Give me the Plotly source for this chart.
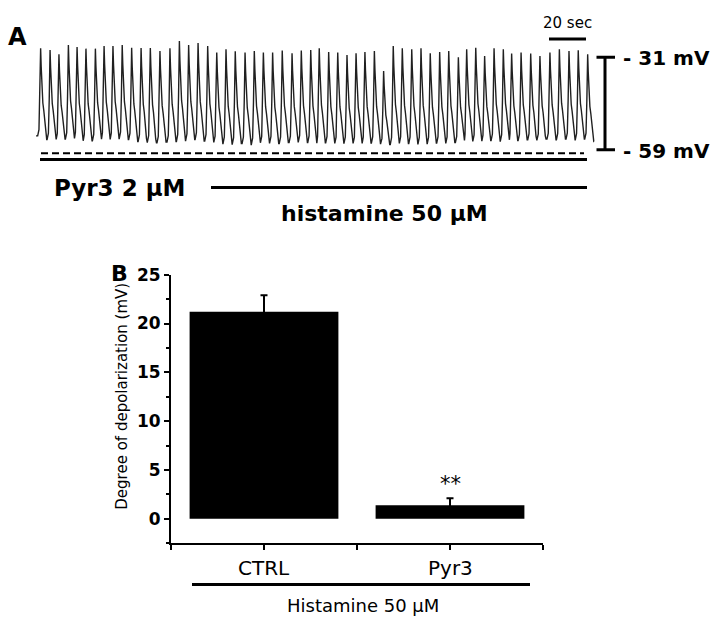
import plotly.graph_objects as go

W, H = 716, 622

# ---------------- Panel A data (read from the recording) ----------------
peak_time_s = [2.5, 7.6, 12.4, 17.5, 22.2, 27.0, 32.1, 36.8, 41.6, 46.6,
               51.7, 56.8, 61.8, 67.0, 72.4, 77.5, 82.5, 87.6, 92.8, 97.7,
               102.7, 107.7, 113.0, 118.0, 122.9, 127.9, 133.1, 138.4, 143.4, 148.5,
               153.1, 158.2, 163.1, 168.1, 173.0, 177.8, 182.9, 187.9, 193.1, 198.0,
               203.1, 208.1, 213.1, 218.2, 223.1, 228.3, 232.8, 237.7, 242.5, 247.6,
               252.6, 257.1, 262.2, 267.4, 272.4, 277.8, 282.9, 288.1, 293.1, 298.2]
peak_mv = [-28.3, -28.8, -30.1, -27.3, -27.9, -28.4, -28.4, -27.6, -27.6, -27.3,
           -28.1, -28.2, -28.2, -29.1, -28.3, -26.1, -27.3, -26.7, -27.6, -29.6,
           -28.6, -29.2, -29.6, -29.1, -29.6, -29.6, -29.0, -29.8, -29.0, -28.8,
           -28.3, -29.4, -29.6, -30.3, -29.8, -29.4, -29.1, -35.2, -27.6, -28.3,
           -28.6, -28.3, -29.8, -29.4, -29.1, -31.0, -28.6, -28.1, -30.6, -28.3,
           -28.6, -29.9, -29.6, -29.9, -30.6, -29.6, -28.6, -29.1, -28.9, -30.1]
trough_mv = [-55.9, -55.9, -55.8, -55.6, -56.3, -56.3, -55.8, -55.9, -55.6, -55.9,
             -56.5, -56.7, -56.9, -56.7, -56.5, -56.2, -55.9, -56.4, -56.8, -57.1,
             -57.3, -57.1, -57.4, -56.9, -56.9, -57.1, -56.8, -56.6, -56.8, -57.0,
             -56.9, -57.1, -57.0, -57.1, -57.1, -57.0, -57.1, -57.4, -57.1, -57.1,
             -57.2, -57.1, -57.0, -57.1, -56.8, -56.2, -56.5, -56.4, -56.2, -56.4,
             -56.0, -56.2, -56.0, -56.0, -55.8, -56.0, -55.8, -56.0, -55.8, -56.5]
start_mv = -54.8
record_end_s = 301.6
scale_mv = [-31, -59]
scale_sec = 20

# ---------------- Panel B data ----------------
groups = ["CTRL", "Pyr3"]
depol_mean = [21.2, 1.4]
depol_sem = [1.7, 0.7]

# ---------------- build trace from per-cycle values ----------------
# single-event waveform shape (time offset from peak in s, fraction of amplitude)
rise_shape = [(-1.6, 0.0), (-0.9, 0.07), (-0.45, 0.45)]
fall_shape = [(0.3, 0.8), (0.7, 0.52), (1.2, 0.4), (1.7, 0.32), (2.3, 0.16),
              (2.9, 0.04), (3.3, 0.0)]
tx, ty = [0.0], [start_mv]
prev = start_mv
for tp, pk, tr in zip(peak_time_s, peak_mv, trough_mv):
    for dt, f in rise_shape:
        t = tp + dt
        if t > tx[-1]:
            tx.append(t); ty.append(prev + f * (pk - prev))
    tx.append(tp); ty.append(pk)
    for dt, f in fall_shape:
        t = tp + dt
        if t <= record_end_s:
            tx.append(t); ty.append(tr + f * (pk - tr))
    prev = tr
if tx[-1] < record_end_s:
    tx.append(record_end_s); ty.append(prev)

# pixel helpers for placing decorations
def px(x):
    return x / W

def py(y):
    return 1 - y / H

# axis calibration of panel A
X0_PX, PX_PER_S = 36.0, 1.85
Y31_PX, PX_PER_MV = 48.0, 94.0 / 28.0
xa_range = [(0 - X0_PX) / PX_PER_S, (W - X0_PX) / PX_PER_S]
ya_top = -31 + Y31_PX / PX_PER_MV
ya_bot = -31 - (230 - Y31_PX) / PX_PER_MV

fig = go.Figure()
fig.add_trace(go.Scatter(x=tx, y=ty, mode="lines",
                         line=dict(color="#202020", width=1.4),
                         xaxis="x", yaxis="y", hoverinfo="skip", showlegend=False))

fig.add_trace(go.Bar(x=list(range(len(groups))), y=depol_mean,
                     error_y=dict(type="data", array=depol_sem, visible=True,
                                  color="black", thickness=2, width=3.5),
                     marker=dict(color="black", line=dict(width=0)),
                     width=0.8, xaxis="x2", yaxis="y2", showlegend=False))

FONT = "DejaVu Sans, Verdana, sans-serif"

fig.update_layout(
    width=W, height=H, margin=dict(l=0, r=0, t=0, b=0),
    paper_bgcolor="white", plot_bgcolor="white",
    font=dict(family=FONT, color="black"),
    xaxis=dict(domain=[0, 1], range=xa_range, visible=False, fixedrange=True),
    yaxis=dict(domain=[1 - 230 / H, 1], range=[ya_bot, ya_top], visible=False),
    xaxis2=dict(domain=[px(171), px(543)], range=[-0.5, len(groups) - 0.5],
                anchor="y2", showline=True, linecolor="black", linewidth=2,
                ticks="outside", ticklen=5, tickwidth=2, tickcolor="black",
                tickvals=[-0.5, 0, 0.5, 1, 1.5], showticklabels=False,
                showgrid=False, zeroline=False),
    yaxis2=dict(domain=[1 - 542 / H, 1 - 269 / H], range=[-2.5, 25],
                anchor="x2", showline=True, linecolor="black", linewidth=2,
                ticks="outside", ticklen=5, tickwidth=2, tickcolor="black",
                tickvals=[0, 5, 10, 15, 20, 25],
                tickfont=dict(family=FONT, size=17, weight="bold"),
                minor=dict(dtick=2.5, tick0=0, ticks="outside", ticklen=3,
                           tickwidth=1.5, tickcolor="black"),
                showgrid=False, zeroline=False),
)

shapes = []
# dashed reference line and solid bar under trace
shapes.append(dict(type="line", xref="paper", yref="paper",
                   x0=px(41), x1=px(584), y0=py(145.5), y1=py(145.5),
                   line=dict(color="black", width=2, dash="7px,4px")))
shapes.append(dict(type="line", xref="paper", yref="paper",
                   x0=px(40), x1=px(587), y0=py(152), y1=py(152),
                   line=dict(color="black", width=3)))
# histamine application bar
shapes.append(dict(type="line", xref="paper", yref="paper",
                   x0=px(211), x1=px(587), y0=py(180.5), y1=py(180.5),
                   line=dict(color="black", width=3)))
# time scale bar
t_bar_end = (586 - X0_PX) / PX_PER_S
shapes.append(dict(type="line", xref="x", yref="paper",
                   x0=t_bar_end - scale_sec, x1=t_bar_end, y0=py(29.5), y1=py(29.5),
                   line=dict(color="black", width=3)))
# voltage scale bar
t_vbar = (605 - X0_PX) / PX_PER_S
t_cap0 = (596.5 - X0_PX) / PX_PER_S
t_cap1 = (615 - X0_PX) / PX_PER_S
shapes.append(dict(type="line", xref="x", yref="y", x0=t_vbar, x1=t_vbar,
                   y0=scale_mv[0], y1=scale_mv[1], line=dict(color="black", width=3)))
for v in scale_mv:
    shapes.append(dict(type="line", xref="x", yref="y", x0=t_cap0, x1=t_cap1,
                       y0=v, y1=v, line=dict(color="black", width=3)))
# bracket line under panel B categories
shapes.append(dict(type="line", xref="paper", yref="paper",
                   x0=px(192), x1=px(530), y0=py(584), y1=py(584),
                   line=dict(color="black", width=3)))
fig.update_layout(shapes=shapes)

ann = []
def add_text(text, x, y, size, bold=False, xanchor="center", angle=0):
    ann.append(dict(text=("<b>%s</b>" % text) if bold else text,
                    x=px(x), y=py(y), xref="paper", yref="paper",
                    xanchor=xanchor, yanchor="middle", showarrow=False,
                    textangle=angle, font=dict(family=FONT, size=size, color="black")))

add_text("A", 17, 27, 24, bold=True)
add_text("B", 119, 268, 22, bold=True)
add_text("20 sec", 567, 13, 15)
for v in scale_mv:
    add_text("- %d mV" % abs(v), 621, Y31_PX + (-31 - v) * PX_PER_MV + 1, 20,
             bold=True, xanchor="left")
add_text("Pyr3 2 µM", 52, 181, 23, bold=True, xanchor="left")
add_text("histamine 50 µM", 384, 207, 22, bold=True)
add_text("Degree of depolarization (mV)", 122, 392, 15, angle=-90)
for i, g in enumerate(groups):
    ann.append(dict(text=g, x=i, y=py(567), xref="x2", yref="paper",
                    xanchor="center", yanchor="middle", showarrow=False,
                    font=dict(family=FONT, size=20, color="black")))
ann.append(dict(text="**", x=1, y=py(482), xref="x2", yref="paper",
                xanchor="center", yanchor="middle", showarrow=False,
                font=dict(family=FONT, size=21, color="black")))
add_text("Histamine 50 µM", 363, 605, 18)
fig.update_layout(annotations=ann)

fig.write_html("out.html", config={"displayModeBar": False},
               post_script="document.body.style.margin='0px';")
